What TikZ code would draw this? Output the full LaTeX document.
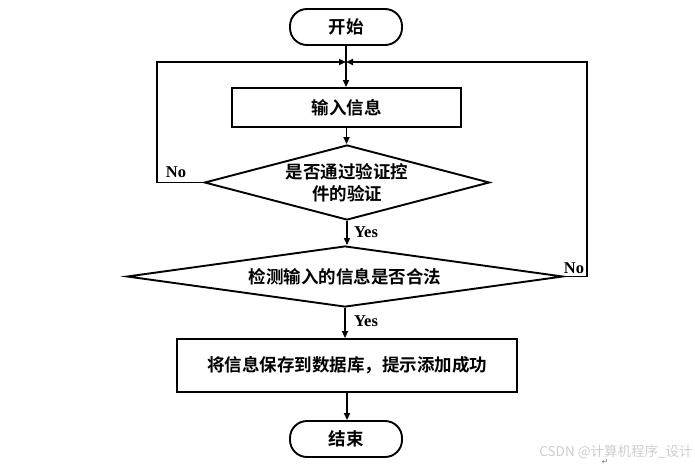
\documentclass[tikz,border=0pt]{standalone}
\usepackage{fontspec}
\setmainfont{Liberation Serif}
\newfontfamily\cjkb{Noto Sans CJK SC}
\newfontfamily\cjkbold{Noto Sans CJK SC Bold}
\newfontfamily\dejavu{DejaVu Sans}
\usetikzlibrary{shapes.geometric,arrows.meta}
\definecolor{wmgray}{RGB}{205,205,205}
\begin{document}
\begin{tikzpicture}[x=1pt,y=-1pt,
  base/.style={draw=black,line width=1.9pt,inner sep=0pt,
    font=\cjkbold\fontsize{17.5}{22}\selectfont,align=center},
  pill/.style={base,rectangle,rounded corners=17pt,minimum width=112pt,minimum height=36pt},
  procbox/.style={base,rectangle},
  decision/.style={base,diamond},
  conn/.style={line width=1.9pt,-{Triangle[length=7pt,width=6pt]}},
  lbl/.style={font=\bfseries\fontsize{16.5}{16.5}\selectfont,inner sep=0pt},
  wm/.style={text=wmgray,inner sep=0pt}]
\useasboundingbox (0,0) rectangle (695,469);
\node[pill] (start) at (346,27) {开始};
\node[procbox,minimum width=229pt,minimum height=39pt] (input) at (346.5,107.5) {输入信息};
\node[decision,minimum width=285pt,minimum height=75pt,aspect=3.8] (d1) at (347,182.5) {是否通过验证控\\件的验证};
\node[decision,minimum width=436pt,minimum height=61pt,aspect=7.1] (d2) at (345,276.5) {检测输入的信息是否合法};
\node[procbox,minimum width=340pt,minimum height=53pt] (save) at (347,365.5) {将信息保存到数据库，提示添加成功};
\node[pill] (end) at (346,439) {结束};

\coordinate (j) at (346,62);
\coordinate (lc) at (157,62);
\coordinate (rc) at (587,62);

\draw[conn] (start.south) -- (start.south |- input.north);
\draw[conn] (input.south) -- (input.south |- d1.north);
\draw[conn] (d1.south) -- (d1.south |- d2.north);
\draw[conn] (d2.south) -- (d2.south |- save.north);
\draw[conn] (save.south) -- (save.south |- end.north);
\draw[conn] (d1.west) -- (d1.west -| lc) -- (lc) -- (j);
\draw[conn] (d2.east) -- (d2.east -| rc) -- (rc) -- (j);

\node[lbl] (no1) at (176,172) {No};
\node[lbl] (no2) at (574,268) {No};
\node[lbl] (yes1) at (366,232) {Yes};
\node[lbl] (yes2) at (366,321) {Yes};

\node[wm,font=\cjkb\fontsize{13.5}{14}\selectfont] (wmark) at (616,452) {CSDN @计算机程序\_设计};
\node[wm,font=\dejavu\fontsize{8}{8}\selectfont,text=gray] (ret) at (605,462) {↵};
\end{tikzpicture}
\end{document}
